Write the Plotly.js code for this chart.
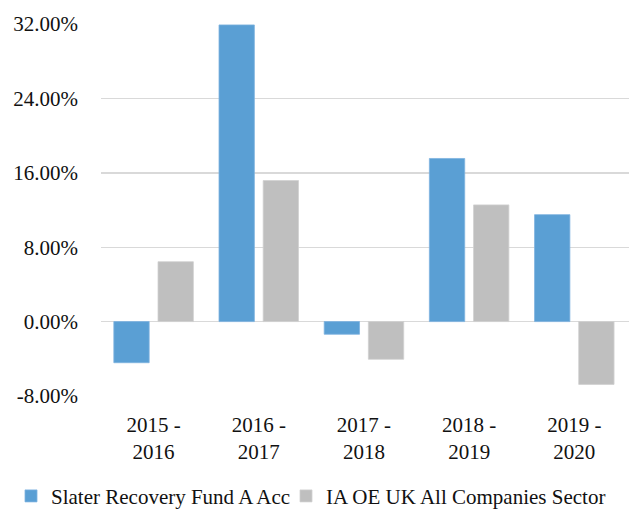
<!DOCTYPE html>
<html>
<head>
<meta charset="utf-8">
<script src="https://cdn.plot.ly/plotly-3.0.1.min.js"></script>
<style>html,body{margin:0;padding:0;background:#fff;overflow:hidden}</style>
</head>
<body>
<div id="chart" style="width:629px;height:510px"></div>
<script>
const categories = ["2015 -<br>2016", "2016 -<br>2017", "2017 -<br>2018", "2018 -<br>2019", "2019 -<br>2020"];
const slaterName = "Slater Recovery Fund A Acc";
const slaterValues = [-4.42, 31.9, -1.36, 17.54, 11.5];
const sectorName = "IA OE UK All Companies Sector";
const sectorValues = [6.44, 15.17, -4.05, 12.55, -6.75];
const yTickVals = [-8, 0, 8, 16, 24, 32];
const yTickText = ["-8.00%", "0.00%", "8.00%", "16.00%", "24.00%", "32.00%"];

const font = {family: "Liberation Serif, Times New Roman, serif", size: 21, color: "#111"};

const traces = [
  {type: "bar", name: slaterName, x: categories, y: slaterValues, legend: "legend",
   marker: {color: "#5A9FD4", line: {color: "#7DB3E0", width: 0.8}}},
  {type: "bar", name: sectorName, x: categories, y: sectorValues, legend: "legend2",
   marker: {color: "#BFBFBF", line: {color: "#D0D0D0", width: 0.8}}}
];

const legendBase = {orientation: "h", xref: "container", yref: "container",
                    xanchor: "left", yanchor: "middle", y: 0.027, font: font,
                    itemwidth: 30, bgcolor: "rgba(0,0,0,0)", borderwidth: 0};

const layout = {
  width: 629, height: 510,
  margin: {l: 101, r: 0, t: 24, b: 114},
  paper_bgcolor: "#fff", plot_bgcolor: "#fff",
  font: font,
  barmode: "group", bargap: 0.16, bargroupgap: 0.2,
  showlegend: true,
  legend: Object.assign({}, legendBase, {x: 11 / 629}),
  legend2: Object.assign({}, legendBase, {x: 286 / 629}),
  xaxis: {type: "category", range: [-0.5, 4.52], showgrid: false, zeroline: false,
          showline: false, ticks: "", tickfont: font, ticklabelstandoff: 14},
  yaxis: {range: [-8, 32], tickvals: yTickVals, ticktext: yTickText,
          showgrid: true, gridcolor: "#D9D9D9", gridwidth: 1.4,
          zeroline: true, zerolinecolor: "#D9D9D9", zerolinewidth: 1.4,
          showline: false, ticks: "", tickfont: font, ticklabelstandoff: 22}
};

Plotly.newPlot("chart", traces, layout, {displayModeBar: false, staticPlot: true});
</script>
</body>
</html>
